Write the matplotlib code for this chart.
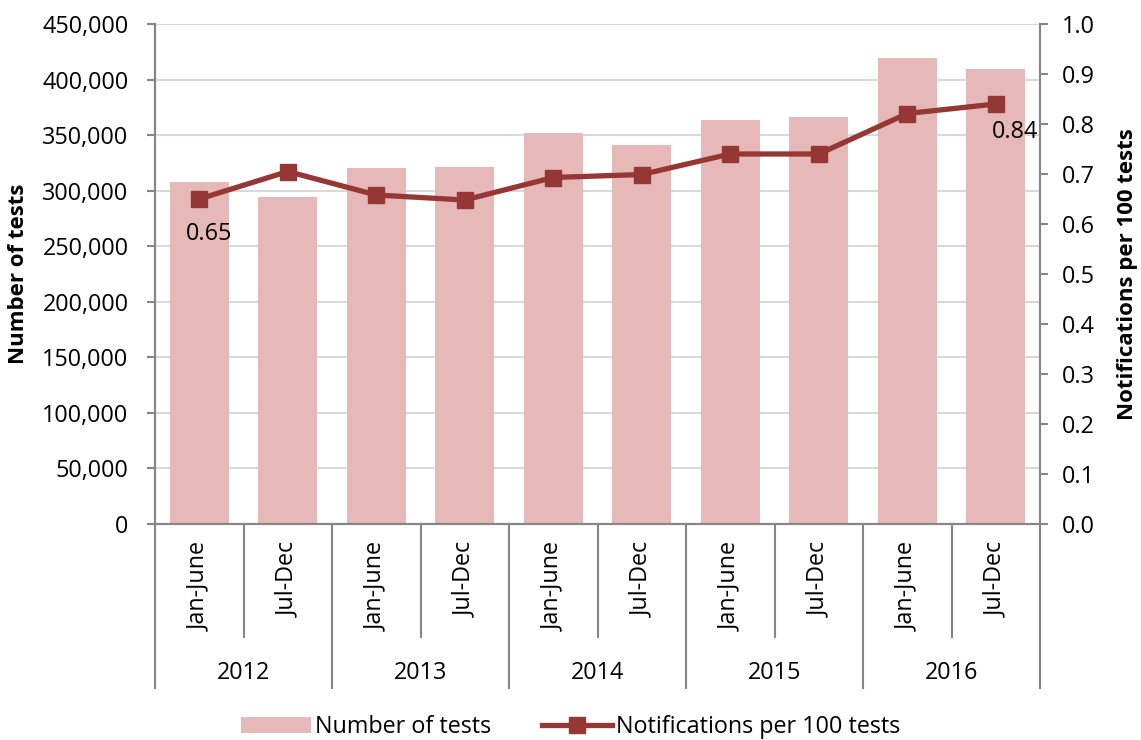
import numpy as np
import matplotlib.pyplot as plt
from matplotlib.patches import Patch
from matplotlib.lines import Line2D

plt.rcParams['font.family'] = ['Open Sans', 'DejaVu Sans']

# Data
years = ['2012', '2013', '2014', '2015', '2016']
halves = ['Jan-June', 'Jul-Dec']
tests = [307800, 294300, 320700, 321300, 351600, 341400, 363600, 366300, 419400, 409500]
rate = [0.65, 0.705, 0.658, 0.648, 0.693, 0.699, 0.74, 0.74, 0.821, 0.84]

bar_color = '#E6B9B8'
line_color = '#953735'
axis_color = '#868686'
grid_color = '#D9D9D9'
fs = 16.8

fig = plt.figure(figsize=(11.41, 7.40), dpi=100)
ax = fig.add_axes([155 / 1141, 1 - 524 / 740, 885 / 1141, 500 / 740])
ax2 = ax.twinx()

x = np.arange(len(tests))
ax.bar(x, tests, width=0.67, color=bar_color, zorder=2)
ax.set_xlim(-0.5, len(tests) - 0.5)
ax.set_ylim(0, 450000)
ax.set_yticks(np.arange(0, 450001, 50000))
ax.set_yticklabels([f'{v:,}' for v in range(0, 450001, 50000)], fontsize=fs)
ax.grid(axis='y', color=grid_color, linewidth=1.5, zorder=0)
ax.set_axisbelow(True)
ax.set_xticks([])

ax2.plot(x, rate, color=line_color, linewidth=3.8, marker='s', markersize=11.5, zorder=5)
ax2.set_ylim(0, 1.0)
ax2.set_yticks(np.arange(0, 1.01, 0.1))
ax2.set_yticklabels([f'{v:.1f}' for v in np.arange(0, 1.01, 0.1)], fontsize=fs)

for a in (ax, ax2):
    a.spines['top'].set_visible(False)
    for s in ('left', 'right', 'bottom'):
        a.spines[s].set_color(axis_color)
        a.spines[s].set_linewidth(1.5)
ax.tick_params(axis='y', color=axis_color, width=1.5, length=6, pad=13)
ax2.tick_params(axis='y', color=axis_color, width=1.5, length=6, pad=10)

ax.set_ylabel('Number of tests', fontsize=16, fontweight='bold')
ax.yaxis.set_label_coords(-0.142, 0.5)
ax2.set_ylabel('Notifications per 100 tests', fontsize=16, fontweight='bold')
ax2.yaxis.set_label_coords(1.087, 0.5)

# data labels
ax2.annotate(f'{rate[0]:.2f}', (x[0], rate[0]), xytext=(7, -25), textcoords='offset points',
             ha='center', va='center', fontsize=fs)
ax2.annotate(f'{rate[-1]:.2f}', (x[-1], rate[-1]), xytext=(14, -20), textcoords='offset points',
             ha='center', va='center', fontsize=fs)

# multi-level category axis
trans = ax.get_xaxis_transform()
for i in range(len(tests) + 1):
    xpos = i - 0.5
    y_end = -0.328 if i % 2 == 0 else -0.226
    ax.plot([xpos, xpos], [0, y_end], color=axis_color, linewidth=1.5,
            transform=trans, clip_on=False)
for i in range(len(tests)):
    ax.text(x[i], -0.036, halves[i % 2], rotation=90, ha='center', va='top',
            fontsize=fs, transform=trans)
for j, yr in enumerate(years):
    ax.text(2 * j + 0.5, -0.298, yr, ha='center', va='center', fontsize=fs, transform=trans)

handles = [Patch(facecolor=bar_color, edgecolor='none'),
           Line2D([0], [0], color=line_color, linewidth=3.8, marker='s', markersize=11.5)]
fig.legend(handles, ['Number of tests', 'Notifications per 100 tests'], loc='center',
           bbox_to_anchor=(0.5, 1 - 727 / 740), ncol=2, frameon=False, fontsize=fs,
           handlelength=3.0, handletextpad=0.15, columnspacing=2.2)

fig.savefig('out.png', dpi=100)
